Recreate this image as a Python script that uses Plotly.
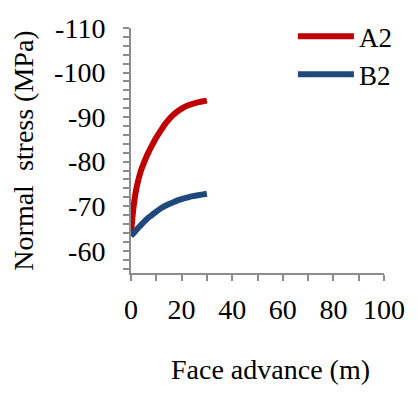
import plotly.graph_objects as go

# Face advance (m) and normal stress (MPa) at the two monitoring points
face_advance = [0, 1, 2, 3, 4, 5, 6, 7, 8, 10, 12, 14, 16, 18, 20, 22, 24, 26, 28, 30]
stress_a2 = [-64.0, -69.8, -73.6, -76.1, -78.1, -79.6, -81.0, -82.2, -83.3, -85.4,
             -87.2, -88.8, -90.1, -91.1, -91.9, -92.5, -92.9, -93.25, -93.5, -93.7]
stress_b2 = [-63.3, -63.9, -64.6, -65.2, -65.8, -66.4, -67.0, -67.5, -67.9, -68.8,
             -69.6, -70.2, -70.7, -71.2, -71.6, -71.9, -72.2, -72.4, -72.6, -72.8]

x_tick_vals = [0, 20, 40, 60, 80, 100]
x_tick_text = ["0", "20", "40", "60", "80", "100"]
y_tick_vals = [-110, -100, -90, -80, -70, -60]
y_tick_text = ["-110", "-100", "-90", "-80", "-70", "-60"]

FONT = "Liberation Serif, Times New Roman, serif"
AXIS_GREY = "#8c8c8c"

fig = go.Figure()
fig.add_trace(go.Scatter(x=face_advance, y=stress_a2, mode="lines", name="A2",
                         line=dict(color="#c00000", width=6, shape="spline", smoothing=0.8)))
fig.add_trace(go.Scatter(x=face_advance, y=stress_b2, mode="lines", name="B2",
                         line=dict(color="#1f497d", width=6, shape="spline", smoothing=0.8)))

fig.update_layout(
    width=417, height=394,
    margin=dict(l=131, r=27, t=17, b=121),
    paper_bgcolor="white", plot_bgcolor="white",
    font=dict(family=FONT, size=28, color="black"),
    showlegend=True,
    legend=dict(x=0.64, y=1.065, xanchor="left", yanchor="top",
                bgcolor="rgba(0,0,0,0)", font=dict(size=27),
                itemwidth=56, tracegroupgap=0),
    xaxis=dict(
        range=[0, 100], showgrid=False, zeroline=False,
        showline=True, linecolor=AXIS_GREY, linewidth=2,
        ticks="outside", ticklen=6, tickwidth=2, tickcolor=AXIS_GREY,
        tickvals=x_tick_vals, ticktext=x_tick_text, ticklabelstandoff=4,
        minor=dict(dtick=10, ticks="outside", ticklen=6, tickwidth=2, tickcolor=AXIS_GREY),
    ),
    yaxis=dict(
        range=[-55, -110], showgrid=False, zeroline=False,
        showline=True, linecolor=AXIS_GREY, linewidth=2,
        ticks="outside", ticklen=6, tickwidth=2, tickcolor=AXIS_GREY,
        tickvals=y_tick_vals, ticktext=y_tick_text, ticklabelstandoff=12,
        minor=dict(dtick=2, ticks="outside", ticklen=6, tickwidth=2, tickcolor=AXIS_GREY),
        title=dict(text="Normal\u00a0 stress (MPa)", standoff=12, font=dict(size=28)),
    ),
    annotations=[
        # x-axis title, set slightly right of the axis centre
        dict(text="Face advance (m)", xref="paper", yref="paper",
             x=0.55, y=-0.395, xanchor="center", yanchor="middle",
             showarrow=False, font=dict(size=28)),
    ],
)

fig.write_html("out.html")
